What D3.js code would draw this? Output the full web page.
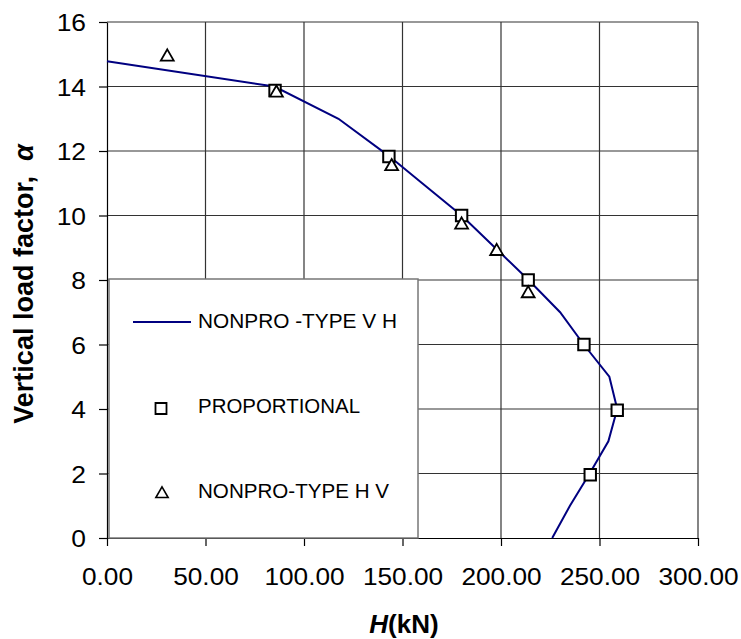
<!DOCTYPE html>
<html>
<head>
<meta charset="utf-8">
<script src="https://cdn.jsdelivr.net/npm/d3@7"></script>
<style>
  body { margin: 0; background: #fff; }
  svg text { font-family: "Liberation Sans", Arial, sans-serif; }
</style>
</head>
<body>
<svg id="chart"></svg>
<script>
// Axis ticks
const xTicks = [0, 50, 100, 150, 200, 250, 300];
const yTicks = [0, 2, 4, 6, 8, 10, 12, 14, 16];

// NONPRO - TYPE V H (line)
const lineH = [226, 235, 245, 254.5, 259, 255, 242, 230, 214, 197, 180, 160, 143, 117.5, 85, 0];
const lineA = [0, 1, 2, 3, 4, 5, 6, 7, 8, 9, 10, 11, 11.85, 13, 14, 14.78];

// PROPORTIONAL (squares)
const propH = [85.3, 143.1, 180, 213.8, 242.1, 259, 245.3];
const propA = [13.88, 11.83, 10, 8, 6, 3.96, 1.96];

// NONPRO-TYPE H V (triangles)
const hvH = [30.6, 86, 144.5, 180, 197.8, 213.8];
const hvA = [14.92, 13.8, 11.52, 9.71, 8.89, 7.58];

const legendLabels = ["NONPRO -TYPE V H", "PROPORTIONAL", "NONPRO-TYPE H V"];

const width = 741, height = 639;
const svg = d3.select("#chart").attr("width", width).attr("height", height);

const x = d3.scaleLinear().domain([0, 300]).range([107, 698]);
const y = d3.scaleLinear().domain([0, 16]).range([538, 22]);

// Gridlines
svg.append("g").selectAll("line")
    .data(xTicks.slice(1))
    .join("line")
    .attr("x1", d => x(d)).attr("x2", d => x(d))
    .attr("y1", y(0)).attr("y2", y(16))
    .attr("stroke", "#333").attr("stroke-width", 1.2);

svg.append("g").selectAll("line")
    .data(yTicks.slice(1))
    .join("line")
    .attr("x1", x(0)).attr("x2", x(300))
    .attr("y1", d => y(d)).attr("y2", d => y(d))
    .attr("stroke", "#333").attr("stroke-width", 1.2);

// Axes
const xAxis = svg.append("g")
    .attr("transform", `translate(0,${y(0)})`)
    .call(d3.axisBottom(x).tickValues(xTicks).tickFormat(d3.format(".2f")).tickSizeInner(8).tickSizeOuter(0));
xAxis.selectAll("text")
    .attr("y", 47).attr("dy", null)
    .attr("font-size", 23).attr("fill", "#000")
    .attr("transform", "scale(1.14,1)");

const yAxis = svg.append("g")
    .attr("transform", `translate(${x(0)},0)`)
    .call(d3.axisLeft(y).tickValues(yTicks).tickFormat(d3.format("d")).tickSizeInner(8).tickSizeOuter(0));
yAxis.selectAll("text")
    .attr("x", -21 / 1.1).attr("dy", "0.36em")
    .attr("font-size", 24).attr("fill", "#000")
    .attr("transform", "scale(1.1,1)");

svg.selectAll(".domain, .tick line").attr("stroke", "#000").attr("stroke-width", 1.2);

// Legend box (drawn before series, covering gridlines)
const legend = svg.append("g");
legend.append("rect")
    .attr("x", 109).attr("y", 279)
    .attr("width", 309).attr("height", 259)
    .attr("fill", "#fff").attr("stroke", "#777").attr("stroke-width", 1.5);

// Series
const lineData = lineH.map((h, i) => [h, lineA[i]]);
svg.append("path")
    .datum(lineData)
    .attr("fill", "none")
    .attr("stroke", "#000080")
    .attr("stroke-width", 2)
    .attr("d", d3.line().x(d => x(d[0])).y(d => y(d[1])));

const squareSym = d3.symbol(d3.symbolSquare, 130);
const triSym = d3.symbol(d3.symbolTriangle, 72);

svg.append("g").selectAll("path")
    .data(propH.map((h, i) => [h, propA[i]]))
    .join("path")
    .attr("d", squareSym)
    .attr("transform", d => `translate(${x(d[0])},${y(d[1])})`)
    .attr("fill", "#fff").attr("stroke", "#000").attr("stroke-width", 2);

svg.append("g").selectAll("path")
    .data(hvH.map((h, i) => [h, hvA[i]]))
    .join("path")
    .attr("d", triSym)
    .attr("transform", d => `translate(${x(d[0])},${y(d[1])})`)
    .attr("fill", "#fff").attr("stroke", "#000").attr("stroke-width", 1.8);

// Legend entries
legend.append("line")
    .attr("x1", 133).attr("x2", 191).attr("y1", 322).attr("y2", 322)
    .attr("stroke", "#000080").attr("stroke-width", 2);
legend.append("path")
    .attr("d", d3.symbol(d3.symbolSquare, 121))
    .attr("transform", "translate(161,408.5)")
    .attr("fill", "#fff").attr("stroke", "#000").attr("stroke-width", 1.8);
legend.append("path")
    .attr("d", d3.symbol(d3.symbolTriangle, 65))
    .attr("transform", "translate(162,494)")
    .attr("fill", "#fff").attr("stroke", "#000").attr("stroke-width", 1.6);

const legendY = [328, 413, 498];
const legendW = [199, 162, 191];
legendLabels.forEach((t, i) => {
    legend.append("text")
        .attr("x", 198).attr("y", legendY[i])
        .attr("font-size", 20)
        .attr("textLength", legendW[i])
        .attr("lengthAdjust", "spacingAndGlyphs")
        .style("white-space", "pre")
        .text(t);
});

// Axis titles
const xTitle = svg.append("text")
    .attr("x", 404).attr("y", 633)
    .attr("text-anchor", "middle")
    .attr("font-size", 26).attr("font-weight", "bold");
xTitle.append("tspan").attr("font-style", "italic").text("H");
xTitle.append("tspan").text("(kN)");

const yTitle = svg.append("text")
    .attr("transform", "translate(33,284) rotate(-90)")
    .attr("text-anchor", "middle")
    .attr("font-size", 27).attr("font-weight", "bold")
    .style("white-space", "pre");
yTitle.append("tspan").text("Vertical load factor,  ");
yTitle.append("tspan").attr("font-style", "italic").text("α");
</script>
</body>
</html>
